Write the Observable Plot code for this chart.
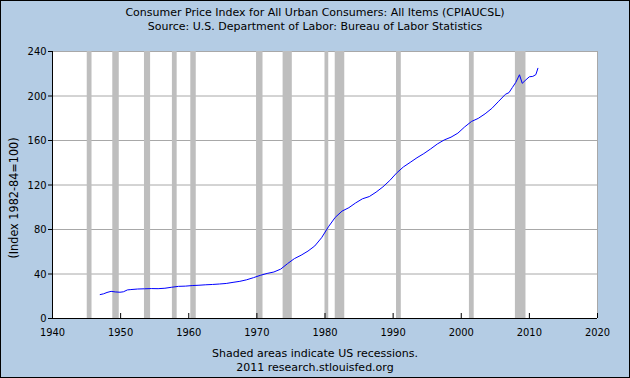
<!DOCTYPE html>
<html><head><meta charset="utf-8">
<script src="https://cdn.jsdelivr.net/npm/d3@7"></script>
<script src="https://cdn.jsdelivr.net/npm/@observablehq/plot@0.6"></script>
<style>
html,body{margin:0;padding:0;background:#fff;}
#wrap{position:relative;width:630px;height:378px;background:#B4CCE4;overflow:hidden;font-family:"DejaVu Sans",sans-serif;color:#000;}
#frame{position:absolute;left:0;top:0;width:630px;height:378px;box-sizing:border-box;border:1px solid #000;pointer-events:none;}
#title{position:absolute;left:0;top:6px;width:630px;text-align:center;font-size:11px;line-height:14px;}
#caption{position:absolute;left:0;top:347px;width:630px;text-align:center;font-size:11px;line-height:14px;}
#ylabel{position:absolute;left:13px;top:198px;transform:translate(-50%,-50%) rotate(-90deg);white-space:nowrap;font-family:"DejaVu Sans Condensed","DejaVu Sans",sans-serif;font-size:12.5px;}
#chart{position:absolute;left:0;top:36px;}
</style></head>
<body>
<div id="wrap">
  <div id="title">Consumer Price Index for All Urban Consumers: All Items (CPIAUCSL)<br>Source: U.S. Department of Labor: Bureau of Labor Statistics</div>
  <div id="chart"></div>
  <div id="ylabel"></div>
  <div id="caption">Shaded areas indicate US recessions.<br>2011 research.stlouisfed.org</div>
  <div id="frame"></div>
</div>
<script>
const years = [1947.0,1947.5,1948.0,1948.6,1949.2,1949.9,1950.4,1951.0,1951.5,1952.5,1953.5,1954.5,1955.5,1956.5,1957.5,1958.5,1959.5,1960.5,1961.5,1962.5,1963.5,1964.5,1965.5,1966.5,1967.5,1968.5,1969.5,1970.5,1971.5,1972.5,1973.5,1974.5,1975.5,1976.5,1977.5,1978.5,1979.5,1980.5,1981.5,1982.5,1983.5,1984.5,1985.5,1986.5,1987.5,1988.5,1989.5,1990.5,1991.5,1992.5,1993.5,1994.5,1995.5,1996.5,1997.5,1998.5,1999.5,2000.5,2001.5,2002.5,2003.5,2004.5,2005.5,2006.5,2007.0,2007.5,2008.0,2008.55,2008.95,2009.5,2010.0,2010.5,2010.95,2011.25];
const cpi = [21.5,22.2,23.4,24.4,23.9,23.6,24.0,25.7,26.0,26.5,26.7,26.9,26.8,27.2,28.1,28.9,29.1,29.6,29.9,30.3,30.6,31.0,31.5,32.5,33.4,34.8,36.7,38.8,40.5,41.8,44.4,49.3,53.8,56.9,60.6,65.2,72.6,82.4,90.9,96.5,99.6,103.9,107.6,109.6,113.6,118.3,124.0,130.7,136.2,140.3,144.5,148.2,152.4,156.9,160.5,163.0,166.6,172.2,177.1,179.9,184.0,188.9,195.3,201.6,203.0,207.6,212.2,219.1,211.4,214.6,217.3,217.6,219.2,224.9];
const recessionStart = [1945.1,1948.85,1953.5,1957.6,1960.3,1969.95,1973.85,1980.0,1981.5,1990.5,2001.2,2007.95];
const recessionEnd   = [1945.8,1949.8,1954.4,1958.3,1961.1,1970.9,1975.2,1980.55,1982.9,1991.2,2001.9,2009.5];
const xTicks = [1940,1950,1960,1970,1980,1990,2000,2010,2020];
const yTicks = [0,40,80,120,160,200,240];
const yLabel = "(Index 1982-84=100)";

document.getElementById("ylabel").textContent = yLabel;
const series = years.map((y,i)=>({year:y, value:cpi[i]}));
const recessions = recessionStart.map((s,i)=>({start:s, end:recessionEnd[i]}));
const xDom = [xTicks[0], xTicks[xTicks.length-1]];
const yDom = [yTicks[0], yTicks[yTicks.length-1]];

const chart = Plot.plot({
  width: 630, height: 306,
  marginLeft: 52, marginRight: 33, marginTop: 15, marginBottom: 24,
  style: {background: "#FFFFFF00", fontFamily: '"DejaVu Sans Condensed","DejaVu Sans",sans-serif', fontSize: "11px", color: "#000"},
  x: {domain: xDom},
  y: {domain: yDom},
  marks: [
    Plot.frame({fill: "#fff", stroke: "none"}),
    Plot.gridY(yTicks, {stroke: "#a8a8a8", strokeOpacity: 1}),
    Plot.rect(recessions, {x1: "start", x2: "end", y1: yDom[0], y2: yDom[1], fill: "#bebebe"}),
    Plot.ruleX([xDom[1]], {stroke: "#a8a8a8"}),
    Plot.line(series, {x: "year", y: "value", stroke: "#0000ff", strokeWidth: 1}),
    Plot.ruleX([xDom[0]], {stroke: "#000"}),
    Plot.ruleY([yDom[0]], {stroke: "#000"}),
    Plot.axisY(yTicks, {tickSize: 4, tickPadding: 2, label: null, tickFormat: d => String(d)}),
    Plot.axisX(xTicks, {tickSize: -5, text: null, label: null}),
    Plot.axisX(xTicks, {tickSize: 0, tickPadding: 10, label: null, tickFormat: d => String(d)})
  ]
});
document.getElementById("chart").appendChild(chart);
</script>
</body></html>
